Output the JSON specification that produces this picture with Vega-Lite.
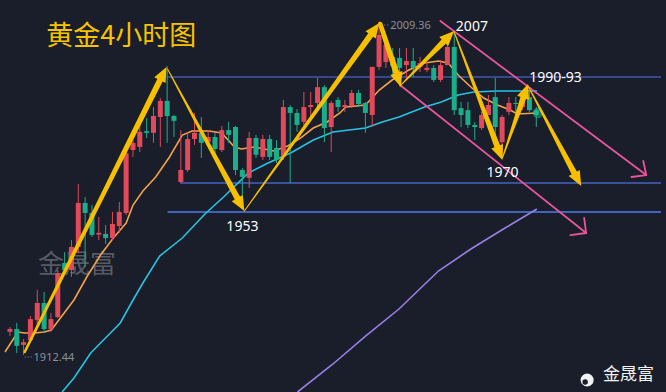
{
  "$schema": "https://vega.github.io/schema/vega-lite/v6.json",
  "width": 666,
  "height": 392,
  "autosize": {"type": "fit", "contains": "padding"},
  "padding": 0,
  "background": "#191e2a",
  "config": {"view": {"stroke": null}},
  "resolve": {"scale": {"color": "independent", "size": "independent", "shape": "independent"}},
  "datasets": {
    "candles": [
      {"x":0,"o":1919.2,"h":1920.6,"l":1918.0,"c":1920.0},
      {"x":1,"o":1920.0,"h":1921.8,"l":1913.0,"c":1915.1},
      {"x":2,"o":1915.4,"h":1917.1,"l":1912.44,"c":1916.2},
      {"x":3,"o":1916.8,"h":1923.8,"l":1916.2,"c":1922.9},
      {"x":4,"o":1922.6,"h":1931.4,"l":1920.6,"c":1927.6},
      {"x":5,"o":1927.6,"h":1930.8,"l":1919.2,"c":1920.0},
      {"x":6,"o":1920.0,"h":1924.7,"l":1919.2,"c":1922.9},
      {"x":7,"o":1923.5,"h":1937.2,"l":1923.2,"c":1936.3},
      {"x":8,"o":1939.2,"h":1942.4,"l":1936.3,"c":1937.2},
      {"x":9,"o":1937.2,"h":1945.9,"l":1935.2,"c":1943.9},
      {"x":10,"o":1943.9,"h":1962.2,"l":1942.1,"c":1956.7},
      {"x":11,"o":1956.7,"h":1958.4,"l":1938.1,"c":1953.8},
      {"x":12,"o":1953.8,"h":1956.1,"l":1946.8,"c":1947.4},
      {"x":13,"o":1947.5,"h":1952.6,"l":1945.9,"c":1948.0},
      {"x":14,"o":1947.7,"h":1950.3,"l":1944.8,"c":1946.5},
      {"x":15,"o":1946.5,"h":1954.1,"l":1945.9,"c":1950.6},
      {"x":16,"o":1950.0,"h":1957.0,"l":1948.0,"c":1954.1},
      {"x":17,"o":1953.8,"h":1972.1,"l":1953.2,"c":1971.2},
      {"x":18,"o":1972.1,"h":1975.0,"l":1970.1,"c":1974.2},
      {"x":19,"o":1973.0,"h":1981.7,"l":1971.5,"c":1977.4},
      {"x":20,"o":1977.6,"h":1981.4,"l":1975.6,"c":1977.1},
      {"x":21,"o":1977.1,"h":1984.6,"l":1974.2,"c":1982.0},
      {"x":22,"o":1981.7,"h":1987.2,"l":1973.0,"c":1986.4},
      {"x":23,"o":1986.4,"h":1996.5,"l":1974.2,"c":1982.0},
      {"x":24,"o":1982.0,"h":1982.3,"l":1975.9,"c":1980.6},
      {"x":25,"o":1962.8,"h":1977.9,"l":1962.5,"c":1966.3},
      {"x":26,"o":1966.3,"h":1977.4,"l":1965.7,"c":1975.3},
      {"x":27,"o":1975.3,"h":1982.9,"l":1973.6,"c":1977.1},
      {"x":28,"o":1977.1,"h":1981.7,"l":1969.8,"c":1974.2},
      {"x":29,"o":1974.4,"h":1977.9,"l":1973.6,"c":1975.9},
      {"x":30,"o":1975.9,"h":1977.1,"l":1971.2,"c":1972.4},
      {"x":31,"o":1972.1,"h":1979.1,"l":1971.5,"c":1977.9},
      {"x":32,"o":1977.9,"h":1980.3,"l":1974.2,"c":1976.5},
      {"x":33,"o":1978.8,"h":1979.1,"l":1964.8,"c":1966.3},
      {"x":34,"o":1966.3,"h":1966.9,"l":1957.0,"c":1964.3},
      {"x":35,"o":1964.0,"h":1977.4,"l":1961.1,"c":1975.6},
      {"x":36,"o":1975.6,"h":1976.5,"l":1969.8,"c":1970.7},
      {"x":37,"o":1970.1,"h":1976.5,"l":1969.2,"c":1975.3},
      {"x":38,"o":1975.3,"h":1976.5,"l":1969.2,"c":1970.1},
      {"x":39,"o":1972.7,"h":1975.0,"l":1968.3,"c":1969.2},
      {"x":40,"o":1970.1,"h":1986.7,"l":1969.2,"c":1984.6},
      {"x":41,"o":1984.6,"h":1985.2,"l":1962.5,"c":1982.9},
      {"x":42,"o":1982.9,"h":1984.0,"l":1977.4,"c":1979.4},
      {"x":43,"o":1980.3,"h":1989.0,"l":1979.4,"c":1984.6},
      {"x":44,"o":1984.6,"h":1989.0,"l":1981.7,"c":1985.2},
      {"x":45,"o":1985.8,"h":1993.1,"l":1984.6,"c":1990.4},
      {"x":46,"o":1990.4,"h":1991.0,"l":1974.4,"c":1978.5},
      {"x":47,"o":1978.8,"h":1986.4,"l":1971.5,"c":1985.8},
      {"x":48,"o":1986.7,"h":1987.5,"l":1983.2,"c":1984.6},
      {"x":49,"o":1984.6,"h":1986.7,"l":1983.2,"c":1985.2},
      {"x":50,"o":1984.9,"h":1989.6,"l":1984.3,"c":1988.7},
      {"x":51,"o":1988.7,"h":1989.6,"l":1984.6,"c":1985.5},
      {"x":52,"o":1985.8,"h":1986.1,"l":1977.1,"c":1982.9},
      {"x":53,"o":1982.3,"h":1996.3,"l":1978.8,"c":1996.3},
      {"x":54,"o":1996.3,"h":2009.36,"l":1995.4,"c":2005.6},
      {"x":55,"o":1997.7,"h":2004.1,"l":1996.0,"c":2002.7},
      {"x":56,"o":1999.2,"h":2001.8,"l":1993.9,"c":1996.6},
      {"x":57,"o":1998.9,"h":2001.8,"l":1993.4,"c":1996.0},
      {"x":58,"o":1996.8,"h":2001.8,"l":1992.5,"c":1998.0},
      {"x":59,"o":1998.0,"h":2001.8,"l":1993.4,"c":1996.0},
      {"x":60,"o":1996.3,"h":1999.2,"l":1994.8,"c":1997.4},
      {"x":61,"o":1995.4,"h":1997.7,"l":1994.8,"c":1996.0},
      {"x":62,"o":1996.0,"h":1996.8,"l":1991.9,"c":1992.5},
      {"x":63,"o":1992.5,"h":1998.3,"l":1991.9,"c":1996.8},
      {"x":64,"o":1996.8,"h":2005.6,"l":1996.8,"c":2002.1},
      {"x":65,"o":2002.1,"h":2007.0,"l":1982.3,"c":1983.7},
      {"x":66,"o":1984.3,"h":1986.1,"l":1978.8,"c":1982.3},
      {"x":67,"o":1983.7,"h":1986.1,"l":1978.5,"c":1979.4},
      {"x":68,"o":1979.4,"h":1980.3,"l":1975.0,"c":1978.8},
      {"x":69,"o":1978.5,"h":1983.2,"l":1977.9,"c":1982.3},
      {"x":70,"o":1982.3,"h":1988.1,"l":1982.3,"c":1985.2},
      {"x":71,"o":1987.5,"h":1993.1,"l":1975.0,"c":1978.8},
      {"x":72,"o":1974.4,"h":1982.3,"l":1969.8,"c":1981.7},
      {"x":73,"o":1983.2,"h":1987.5,"l":1982.3,"c":1985.8},
      {"x":74,"o":1985.8,"h":1987.5,"l":1983.2,"c":1985.5},
      {"x":75,"o":1984.6,"h":1988.7,"l":1983.7,"c":1986.1},
      {"x":76,"o":1987.5,"h":1989.0,"l":1983.2,"c":1983.7},
      {"x":77,"o":1983.7,"h":1984.6,"l":1978.8,"c":1982.3}
    ]
  },
  "encoding": {
    "x": {"field": "x", "type": "quantitative", "scale": {"domain": [-0.7205, 95.245], "nice": false, "zero": false}, "axis": null},
    "y": {"field": "y", "type": "quantitative", "scale": {"domain": [1901.69, 2015.76], "nice": false, "zero": false}, "axis": null}
  },
  "layer": [
    {
      "data": {"values": [
        {"x": 9.798, "y": 1938.64, "t": "金晟富"}
      ]},
      "mark": {"type": "text", "align": "center", "baseline": "middle", "font": "Noto Sans CJK SC", "fontSize": 26, "color": "#555a65"},
      "encoding": {"text": {"field": "t"}}
    },
    {
      "data": {"values": [
        {"x": 22.911, "x2": 95.245, "y": 1993.35, "k": "a"},
        {"x": 24.928, "x2": 95.245, "y": 1962.51, "k": "b"},
        {"x": 23.055, "x2": 95.245, "y": 1954.07, "k": "c"}
      ]},
      "mark": {"type": "rule", "strokeWidth": 1.6},
      "encoding": {
        "x2": {"field": "x2"},
        "color": {"field": "k", "type": "nominal", "scale": {"domain": ["a", "b", "c"], "range": ["#3d59ad", "#4462c4", "#4b7cf0"]}, "legend": null}
      }
    },
    {
      "data": {"values": [
        {"s":"ma1","x":-0.720,"y":1913.33},{"s":"ma1","x":1.153,"y":1919.15},{"s":"ma1","x":2.161,"y":1918.86},{"s":"ma1","x":3.602,"y":1918.86},
        {"s":"ma1","x":5.043,"y":1919.15},{"s":"ma1","x":6.052,"y":1919.73},{"s":"ma1","x":7.493,"y":1923.51},{"s":"ma1","x":9.366,"y":1928.46},
        {"s":"ma1","x":11.239,"y":1935.15},{"s":"ma1","x":13.256,"y":1941.56},{"s":"ma1","x":15.130,"y":1946.50},{"s":"ma1","x":17.003,"y":1950.87},
        {"s":"ma1","x":18.012,"y":1956.10},{"s":"ma1","x":19.452,"y":1960.18},{"s":"ma1","x":21.326,"y":1964.25},{"s":"ma1","x":23.343,"y":1970.07},
        {"s":"ma1","x":25.216,"y":1976.47},{"s":"ma1","x":26.657,"y":1977.64},{"s":"ma1","x":29.107,"y":1977.64},{"s":"ma1","x":30.980,"y":1977.06},
        {"s":"ma1","x":32.853,"y":1972.98},{"s":"ma1","x":33.862,"y":1972.40},{"s":"ma1","x":35.735,"y":1972.98},{"s":"ma1","x":38.617,"y":1971.82},
        {"s":"ma1","x":40.634,"y":1973.27},{"s":"ma1","x":42.507,"y":1975.60},{"s":"ma1","x":44.380,"y":1978.51},{"s":"ma1","x":46.398,"y":1980.26},
        {"s":"ma1","x":48.271,"y":1982.88},{"s":"ma1","x":49.135,"y":1984.62},{"s":"ma1","x":52.017,"y":1985.20},{"s":"ma1","x":54.035,"y":1989.57},
        {"s":"ma1","x":55.908,"y":1992.48},{"s":"ma1","x":58.357,"y":1995.39},{"s":"ma1","x":60.663,"y":1997.43},{"s":"ma1","x":62.680,"y":1998.01},
        {"s":"ma1","x":64.121,"y":1997.43},{"s":"ma1","x":65.562,"y":1993.93},{"s":"ma1","x":67.435,"y":1990.44},{"s":"ma1","x":69.308,"y":1987.24},
        {"s":"ma1","x":71.326,"y":1985.20},{"s":"ma1","x":73.199,"y":1983.75},{"s":"ma1","x":74.207,"y":1982.59},{"s":"ma1","x":77.089,"y":1982.88},
        {"s":"ma2","x":7.637,"y":1901.69},{"s":"ma2","x":9.366,"y":1905.76},{"s":"ma2","x":11.816,"y":1913.04},{"s":"ma2","x":13.689,"y":1916.82},
        {"s":"ma2","x":16.138,"y":1921.77},{"s":"ma2","x":18.012,"y":1928.46},{"s":"ma2","x":19.452,"y":1933.41},{"s":"ma2","x":21.902,"y":1941.26},
        {"s":"ma2","x":25.216,"y":1946.50},{"s":"ma2","x":28.530,"y":1953.49},{"s":"ma2","x":31.412,"y":1958.72},{"s":"ma2","x":34.870,"y":1965.42},
        {"s":"ma2","x":37.752,"y":1968.33},{"s":"ma2","x":41.066,"y":1971.24},{"s":"ma2","x":44.380,"y":1975.02},{"s":"ma2","x":47.262,"y":1977.35},
        {"s":"ma2","x":52.017,"y":1978.51},{"s":"ma2","x":54.467,"y":1980.26},{"s":"ma2","x":56.916,"y":1981.71},{"s":"ma2","x":60.663,"y":1984.62},
        {"s":"ma2","x":63.112,"y":1986.08},{"s":"ma2","x":65.562,"y":1988.12},{"s":"ma2","x":67.867,"y":1988.99},{"s":"ma2","x":71.326,"y":1989.28},
        {"s":"ma2","x":77.089,"y":1989.28},
        {"s":"ma3","x":42.075,"y":1901.69},{"s":"ma3","x":47.262,"y":1909.84},{"s":"ma3","x":52.017,"y":1917.98},{"s":"ma3","x":56.916,"y":1925.84},
        {"s":"ma3","x":62.680,"y":1936.90},{"s":"ma3","x":67.435,"y":1943.30},{"s":"ma3","x":72.190,"y":1949.12},{"s":"ma3","x":77.089,"y":1954.94}
      ]},
      "mark": {"type": "line", "strokeWidth": 1.6, "clip": true},
      "encoding": {
        "color": {"field": "s", "type": "nominal", "scale": {"domain": ["ma1", "ma2", "ma3"], "range": ["#f3a24c", "#27c3e3", "#9a7fe6"]}, "legend": null}
      }
    },
    {
      "data": {"name": "candles"},
      "mark": {"type": "rule", "strokeWidth": 1},
      "encoding": {
        "y": {"field": "l", "type": "quantitative", "scale": {"domain": [1901.69, 2015.76], "nice": false, "zero": false}, "axis": null},
        "y2": {"field": "h"},
        "color": {"condition": {"test": "datum.c >= datum.o", "value": "#e2495b"}, "value": "#1cae8a"}
      }
    },
    {
      "data": {"name": "candles"},
      "mark": {"type": "bar", "width": 5},
      "encoding": {
        "y": {"field": "o", "type": "quantitative", "scale": {"domain": [1901.69, 2015.76], "nice": false, "zero": false}, "axis": null},
        "y2": {"field": "c"},
        "color": {"condition": {"test": "datum.c >= datum.o", "value": "#e2495b"}, "value": "#1cae8a"}
      }
    },
    {
      "data": {"values": [{"x": 77.233, "y": 1982.88}]},
      "mark": {"type": "circle", "size": 110, "color": "#22c79a", "opacity": 0.45}
    },
    {
      "data": {"values": [
        {"x": 62.968, "y": 2009.65, "x2": 93.084, "y2": 1964.83},
        {"x": 93.084, "y": 1964.83, "x2": 92.651, "y2": 1968.91},
        {"x": 93.084, "y": 1964.83, "x2": 90.922, "y2": 1964.25},
        {"x": 57.061, "y": 1991.02, "x2": 84.294, "y2": 1947.96},
        {"x": 84.294, "y": 1947.96, "x2": 84.006, "y2": 1952.32},
        {"x": 84.294, "y": 1947.96, "x2": 81.988, "y2": 1947.37}
      ]},
      "mark": {"type": "rule", "color": "#e8559e", "strokeWidth": 1.8, "strokeCap": "round"},
      "encoding": {"x2": {"field": "x2"}, "y2": {"field": "y2"}}
    },
    {
      "data": {"values": [
        {"g":"a1","x":2.161,"y":1913.33,"r":1},{"g":"a1","x":22.003,"y":1992.63,"r":3},
        {"g":"a2","x":23.055,"y":1995.68,"r":0},{"g":"a2","x":33.329,"y":1957.94,"r":3},
        {"g":"a3","x":34.294,"y":1954.36,"r":0},{"g":"a3","x":52.853,"y":2005.78,"r":3},
        {"g":"a4","x":54.179,"y":2008.78,"r":2},{"g":"a4","x":56.571,"y":1994.31,"r":3},
        {"g":"a5","x":57.061,"y":1990.73,"r":0},{"g":"a5","x":63.559,"y":2003.86,"r":3},
        {"g":"a6","x":64.986,"y":2006.45,"r":0},{"g":"a6","x":71.326,"y":1973.01,"r":3},
        {"g":"a7","x":72.046,"y":1969.78,"r":0},{"g":"a7","x":75.130,"y":1987.47,"r":3},
        {"g":"a8","x":75.793,"y":1990.73,"r":0},{"g":"a8","x":82.608,"y":1965.21,"r":3}
      ]},
      "mark": {"type": "trail", "color": "#f6bf00"},
      "encoding": {
        "detail": {"field": "g"},
        "size": {"field": "r", "type": "quantitative", "scale": {"type": "threshold", "domain": [0.5, 1.5, 2.5], "range": [1, 2.5, 4.5, 6]}, "legend": null}
      }
    },
    {
      "data": {"values": [
        {"g":"a1","x":22.911,"y":1996.26},
        {"g":"a2","x":34.294,"y":1954.36},
        {"g":"a3","x":54.035,"y":2009.07},
        {"g":"a4","x":57.205,"y":1990.44},
        {"g":"a5","x":64.986,"y":2006.74},
        {"g":"a6","x":72.046,"y":1969.20},
        {"g":"a7","x":75.793,"y":1991.32},
        {"g":"a8","x":83.573,"y":1961.63}
      ]},
      "mark": {"type": "point", "filled": true, "opacity": 1, "size": 160, "color": "#f6bf00", "strokeWidth": 0},
      "encoding": {
        "shape": {"field": "g", "type": "nominal", "legend": null, "scale": {
          "domain": ["a1", "a2", "a3", "a4", "a5", "a6", "a7", "a8"],
          "range": [
            "M0,0L-0.158,2.532L-1.944,1.63Z",
            "M0,0L-1.997,-1.56L-0.245,-2.522Z",
            "M0,0L-0.564,2.472L-2.18,1.294Z",
            "M0,0L-1.685,-1.895L0.213,-2.527Z",
            "M0,0L-0.94,2.354L-2.354,0.94Z",
            "M0,0L-1.768,-1.818L0.1,-2.534Z",
            "M0,0L0.17,2.532L-1.718,1.868Z",
            "M0,0L-1.987,-1.575L-0.227,-2.525Z"
          ]
        }}
      }
    },
    {
      "data": {"values": [
        {"x": 54.323, "x2": 55.331, "y": 2008.49},
        {"x": 2.161, "x2": 3.314, "y": 1911.87}
      ]},
      "mark": {"type": "rule", "color": "#8c919a", "strokeWidth": 1, "strokeDash": [1, 2]},
      "encoding": {"x2": {"field": "x2"}}
    },
    {
      "data": {"values": [
        {"x": 55.62, "y": 2008.19, "t": "2009.36"},
        {"x": 3.458, "y": 1911.58, "t": "1912.44"}
      ]},
      "mark": {"type": "text", "align": "left", "baseline": "middle", "font": "Noto Sans", "fontSize": 11, "color": "#8c919a"},
      "encoding": {"text": {"field": "t"}}
    },
    {
      "data": {"values": [
        {"x": 34.006, "y": 1949.70, "t": "1953"},
        {"x": 67.579, "y": 2007.76, "t": "2007"},
        {"x": 72.046, "y": 1965.56, "t": "1970"},
        {"x": 79.827, "y": 1993.06, "t": "1990-93"}
      ]},
      "mark": {"type": "text", "align": "center", "baseline": "middle", "font": "Noto Sans", "fontSize": 14, "color": "#ffffff"},
      "encoding": {"text": {"field": "t"}}
    },
    {
      "data": {"values": [{"x": 5.331, "y": 2004.99, "t": "黄金4小时图"}]},
      "mark": {"type": "text", "align": "left", "baseline": "middle", "font": "Noto Sans CJK SC", "fontSize": 27, "color": "#f7c300"},
      "encoding": {"text": {"field": "t"}}
    },
    {
      "data": {"values": [{"x": 84.438, "y": 1905.18}]},
      "mark": {"type": "circle", "size": 170, "color": "#f2f2f2", "opacity": 1}
    },
    {
      "data": {"values": [{"x": 84.150, "y": 1904.60}]},
      "mark": {"type": "circle", "size": 30, "color": "#191e2a", "opacity": 1}
    },
    {
      "data": {"values": [{"x": 90.49, "y": 1906.63, "t": "金晟富"}]},
      "mark": {"type": "text", "align": "center", "baseline": "middle", "font": "Noto Sans CJK SC", "fontSize": 17, "color": "#f2f2f2"},
      "encoding": {"text": {"field": "t"}}
    }
  ]
}
